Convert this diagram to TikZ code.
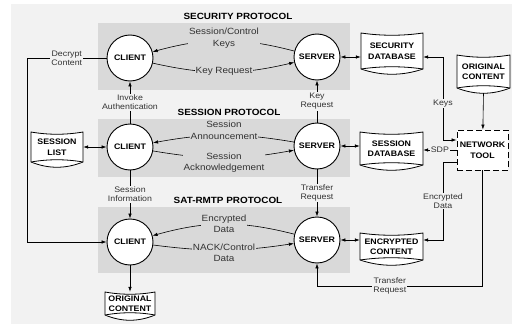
\documentclass[tikz,border=0pt]{standalone}
\usepackage{fontspec}
\setmainfont{Liberation Sans}[FakeStretch=1.1]
\usetikzlibrary{arrows.meta}

\definecolor{bggray}{HTML}{F2F2F2}
\definecolor{panelgray}{HTML}{D9D9D9}
\definecolor{labelgray}{HTML}{333333}

% stored data: name, centre, half width, half height, text
\newcommand{\storebox}[5]{%
  \coordinate (#1-c) at (#2);
  \draw[storeline] ([shift={(-#3pt,#4pt)}]#1-c)
    .. controls ([shift={(-#3pt/3,#4pt-3pt)}]#1-c) and ([shift={(#3pt/3,#4pt-3pt)}]#1-c) .. ([shift={(#3pt,#4pt)}]#1-c)
    -- ([shift={(#3pt,-#4pt)}]#1-c)
    .. controls ([shift={(#3pt/3,-#4pt-7pt)}]#1-c) and ([shift={(-#3pt/3,-#4pt-7pt)}]#1-c) .. ([shift={(-#3pt,-#4pt)}]#1-c)
    -- cycle;
  \draw[storeline] ([shift={(-#3pt,-#4pt)}]#1-c)
    .. controls ([shift={(-#3pt/3,-#4pt+3pt)}]#1-c) and ([shift={(#3pt/3,-#4pt+3pt)}]#1-c) .. ([shift={(#3pt,-#4pt)}]#1-c);
  \node[storetext, minimum width=2*#3pt, minimum height=2*#4pt] (#1) at (#1-c) {#5};
}

\begin{document}
\begin{tikzpicture}[x=1pt, y=-1pt,
  >={Latex[length=5pt,width=3.5pt]},
  proc/.style={circle, draw, line width=0.9pt, fill=white, minimum size=46pt, inner sep=0pt, font=\fontsize{8}{9}\selectfont\bfseries},
  storeline/.style={draw, line width=0.8pt, fill=white},
  storetext/.style={inner sep=0pt, align=center, font=\fontsize{8}{10.5}\selectfont\bfseries},
  tool/.style={draw, dash pattern=on 6pt off 3pt, line width=0.9pt, fill=white, minimum width=51pt, minimum height=40pt, inner sep=0pt, align=center, font=\fontsize{8}{10.5}\selectfont\bfseries},
  title/.style={font=\fontsize{9}{10}\selectfont\bfseries},
  msg/.style={align=center, text=labelgray, fill=panelgray, inner sep=1pt, font=\fontsize{9}{11.5}\selectfont},
  note/.style={align=center, text=labelgray, fill=bggray, inner sep=1pt, font=\fontsize{8}{9}\selectfont},
  flow/.style={line width=0.6pt}]

\useasboundingbox (0,0) rectangle (512,324);
\fill[white] (0,0) rectangle (512,324);
\fill[bggray] (11,4) rectangle (512,324);

% protocol layers
\fill[panelgray] (98,23) rectangle (350,90);
\fill[panelgray] (98,119) rectangle (350,177);
\fill[panelgray] (98,207) rectangle (350,273);
\node[title] (sectitle) at (238,16) {SECURITY PROTOCOL};
\node[title] (sestitle) at (229,112) {SESSION PROTOCOL};
\node[title] (sattitle) at (228,200) {SAT-RMTP PROTOCOL};

% clients and servers
\node[proc] (client1) at (130,58) {CLIENT};
\node[proc] (server1) at (317,57) {SERVER};
\node[proc] (client2) at (130,147) {CLIENT};
\node[proc] (server2) at (317,146) {SERVER};
\node[proc] (client3) at (130,242) {CLIENT};
\node[proc] (server3) at (317,240) {SERVER};

% data stores
\storebox{secdb}{392,51}{31}{18}{SECURITY\\DATABASE}
\storebox{origtop}{483.5,71.5}{26.5}{16.5}{ORIGINAL\\CONTENT}
\storebox{seslist}{57,147}{26}{15}{SESSION\\LIST}
\storebox{sesdb}{391.5,148.5}{31.5}{16.5}{SESSION\\DATABASE}
\storebox{encdb}{391.5,246.5}{31.5}{13.5}{ENCRYPTED\\CONTENT}
\storebox{origbot}{130,303.5}{25}{11.5}{ORIGINAL\\CONTENT}

\node[tool] (nettool) at (482.5,150) {NETWORK\\TOOL};

\coordinate (leftrail) at (27,0);
\coordinate (keyrail) at (443,0);
\coordinate (bottomrail) at (0,286);
\coordinate (toolkeys) at ([yshift=10pt]nettool.west);
\coordinate (toolenc) at ([yshift=-12pt]nettool.west);

% Security protocol
\draw[flow,->] (server1) to[bend right=15] (client1);
\draw[flow,->] (client1) to[bend right=13] (server1);
\node[msg] (ctrlkeys) at (224,38) {Session/Control\\Keys};
\node[msg] (keyreq1) at (224,71) {Key Request};

% Session protocol
\draw[flow,->] (server2) to[bend right=10] (client2);
\draw[flow,->] (client2) to[bend right=10] (server2);
\node[msg] (announce) at (224,130.5) {Session\\Announcement};
\node[msg] (ack) at (224,162.5) {Session\\Acknowledgement};

% SAT-RMTP protocol
\draw[flow,->] (server3) to[bend right=15] (client3);
\draw[flow,->] (client3) to[bend right=8] (server3);
\node[msg] (encdata1) at (224,224) {Encrypted\\Data};
\node[msg] (nack) at (224,253) {NACK/Control\\Data};

% between the layers
\draw[flow,->] (client2) -- node[note] (invoke) {Invoke\\Authentication} (client1);
\draw[flow,->] (client2) -- node[note] (sesinfo) {Session\\Information} (client3);
\draw[flow,->] (server2) -- node[note] (keyreq2) {Key\\Request} (server1);
\draw[flow,->] (server2) -- node[note] (transfer1) {Transfer\\Request} (server3);
\draw[flow,->] (client1) -- node[note] (decrypt) {Decrypt\\Content} (client1 -| leftrail) |- (client3);
\draw[flow,->] (client3) -- (origbot);
\draw[flow,<->] (seslist) -- (client2);

% stores on the server side
\draw[flow,<->] (server1) -- (server1 -| secdb.west);
\draw[flow,<->] (server2) -- (server2 -| sesdb.west);
\draw[flow,<->] (server3) -- (server3 -| encdb.west);

% network tool
\draw[flow,->] ([yshift=-5pt]origtop.south) -- (nettool);
\draw[flow,<->] (secdb.east |- server1) -| node[note, pos=0.78] (keys) {Keys} (keyrail |- toolkeys) -- (toolkeys);
\draw[flow,->] (nettool) -- node[note] (sdp) {SDP} (nettool -| sesdb.east);
\draw[flow,->] (toolenc) -| node[note, pos=0.75] (encdata2) {Encrypted\\Data} (keyrail |- server3) -- (encdb.east |- server3);
\draw[flow,->] (nettool) |- node[note, pos=0.78] (transfer2) {Transfer\\Request} (server3 |- bottomrail) -- (server3);

\end{tikzpicture}
\end{document}
